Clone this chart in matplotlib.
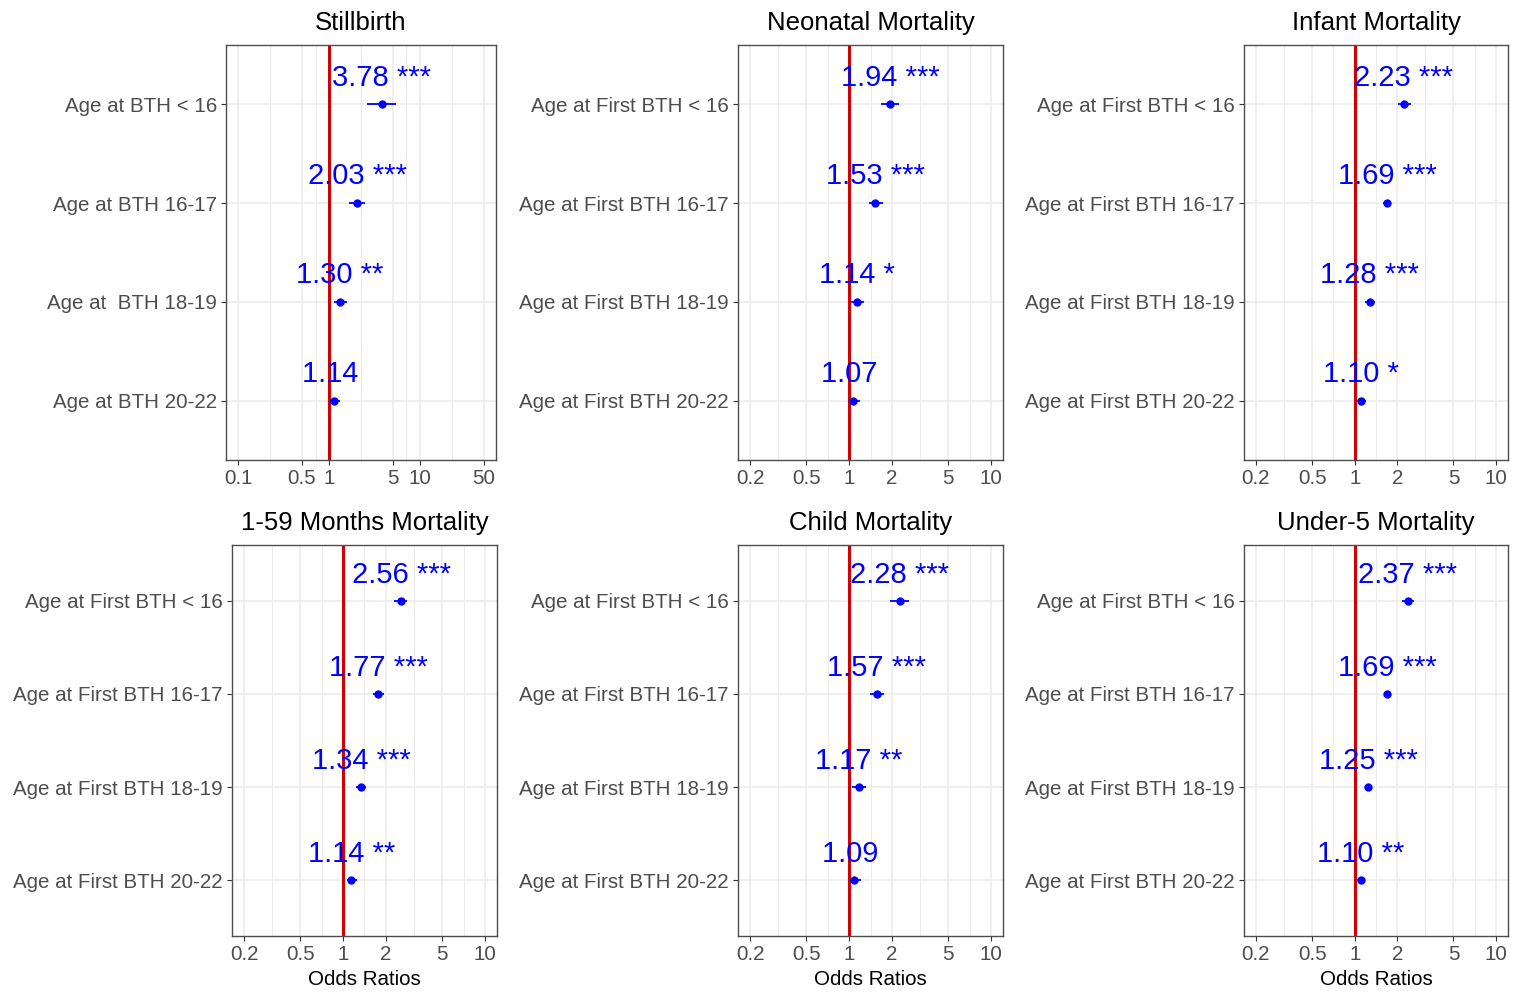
import numpy as np
import matplotlib
matplotlib.use('Agg')
import matplotlib.pyplot as plt

plt.rcParams['font.family'] = ['Liberation Sans', 'DejaVu Sans']

#### Panel titles
titles = ['Stillbirth', 'Neonatal Mortality', 'Infant Mortality',
          '1-59 Months Mortality', 'Child Mortality', 'Under-5 Mortality']

#### Row labels (top to bottom)
labels_still = ['Age at BTH < 16', 'Age at BTH 16-17', 'Age at  BTH 18-19', 'Age at BTH 20-22']
labels_first = ['Age at First BTH < 16', 'Age at First BTH 16-17',
                'Age at First BTH 18-19', 'Age at First BTH 20-22']

#### Odds ratios, confidence limits and significance stars (top to bottom)
odds = [[3.78, 2.03, 1.30, 1.14],
        [1.94, 1.53, 1.14, 1.07],
        [2.23, 1.69, 1.28, 1.10],
        [2.56, 1.77, 1.34, 1.14],
        [2.28, 1.57, 1.17, 1.09],
        [2.37, 1.69, 1.25, 1.10]]
ci_low = [[2.59, 1.66, 1.12, 1.02],
          [1.68, 1.37, 1.03, 0.99],
          [2.02, 1.59, 1.19, 1.04],
          [2.29, 1.62, 1.24, 1.06],
          [1.95, 1.40, 1.04, 0.99],
          [2.16, 1.62, 1.20, 1.04]]
ci_high = [[5.48, 2.50, 1.57, 1.33],
           [2.25, 1.72, 1.27, 1.19],
           [2.50, 1.82, 1.39, 1.20],
           [2.84, 1.94, 1.45, 1.25],
           [2.64, 1.77, 1.32, 1.21],
           [2.64, 1.81, 1.33, 1.18]]
stars = [['***', '***', '**', ''],
         ['***', '***', '*', ''],
         ['***', '***', '***', '*'],
         ['***', '***', '***', '**'],
         ['***', '***', '**', ''],
         ['***', '***', '***', '**']]

breaks_still = [0.1, 0.5, 1, 5, 10, 50]
breaks_other = [0.2, 0.5, 1, 2, 5, 10]

#### Axes boxes in pixels (left, top, right, bottom)
W, H = 1515, 992
boxes = [(226, 45, 496, 460), (738, 45, 1003, 460), (1244, 45, 1508, 460),
         (232, 545, 497, 936), (738, 545, 1003, 936), (1244, 545, 1508, 936)]

fig = plt.figure(figsize=(W / 100, H / 100), dpi=100)

for i in range(6):
    l, t, r, b = boxes[i]
    ax = fig.add_axes([l / W, 1 - b / H, (r - l) / W, (b - t) / H])
    breaks = breaks_still if i == 0 else breaks_other
    labels = labels_still if i == 0 else labels_first

    # log x scale with 5% expansion like ggplot
    lo, hi = np.log10(breaks[0]), np.log10(breaks[-1])
    pad = (hi - lo) * 0.05
    ax.set_xscale('log')
    ax.set_xlim(10 ** (lo - pad), 10 ** (hi + pad))
    ax.set_ylim(0.4, 4.6)

    # grid
    minors = [np.sqrt(breaks[k] * breaks[k + 1]) for k in range(len(breaks) - 1)]
    for m in minors:
        ax.axvline(m, color='#EBEBEB', lw=0.7, zorder=0)
    for br in breaks:
        ax.axvline(br, color='#EBEBEB', lw=1.1, zorder=0)
    ypos = np.arange(4, 0, -1)
    for y in ypos:
        ax.axhline(y, color='#EBEBEB', lw=1.1, zorder=0)

    ax.axvline(1, color='#D00000', lw=2.2, zorder=2)

    o = np.array(odds[i])
    ax.errorbar(o, ypos, xerr=[o - np.array(ci_low[i]), np.array(ci_high[i]) - o],
                fmt='o', color='blue', ms=5, elinewidth=1.3, capsize=0, zorder=3)
    for k in range(4):
        ax.text(o[k], ypos[k] + 0.19, f'{o[k]:.2f} {stars[i][k]}', ha='center',
                va='baseline', color='blue', fontsize=21, zorder=4)

    ax.set_xticks(breaks)
    ax.set_xticklabels([f'{v:g}' for v in breaks])
    ax.xaxis.set_minor_locator(matplotlib.ticker.NullLocator())
    ax.set_yticks(ypos)
    ax.set_yticklabels(labels)
    ax.tick_params(labelsize=14.8, labelcolor='#4D4D4D', color='#333333',
                   length=3.5, width=0.8, pad=3)
    for s in ax.spines.values():
        s.set_color('#4D4D4D')
        s.set_linewidth(1.0)
    ax.set_title(titles[i], fontsize=18.5, pad=11)
    if i >= 3:
        ax.set_xlabel('Odds Ratios', fontsize=14.8, labelpad=4)

fig.savefig('out.png', dpi=100)
